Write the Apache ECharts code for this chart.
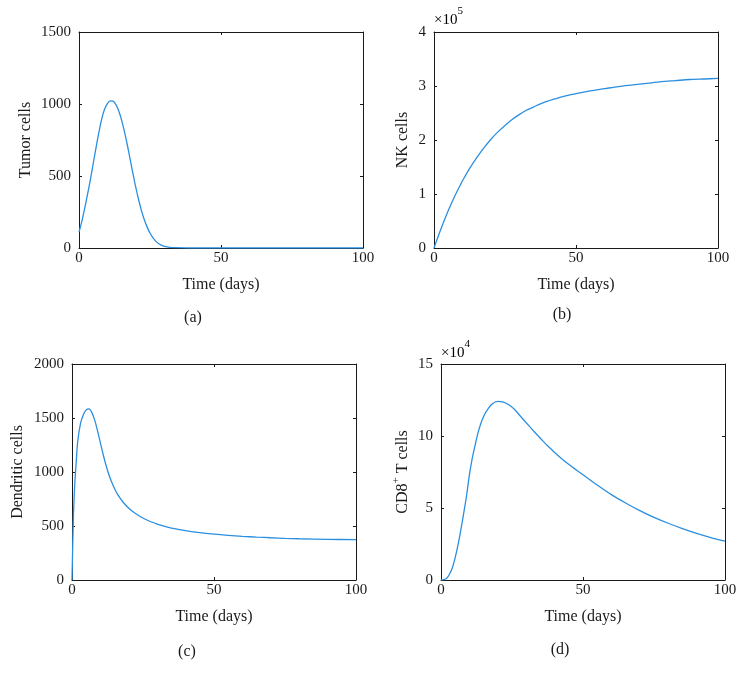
<!DOCTYPE html>
<html>
<head>
<meta charset="utf-8">
<script src="https://cdn.jsdelivr.net/npm/echarts@6/dist/echarts.min.js"></script>
<style>
  html, body { margin: 0; background: #fff; }
  #chart { width: 747px; height: 683px; }
</style>
</head>
<body>
<div id="chart"></div>
<script>
// values (time in days)
const tumorDays = [0, 1, 2, 3, 4, 5, 6, 7, 8, 9, 10, 11, 12, 13, 14, 15, 16, 17, 18, 19, 20, 21, 22, 23, 24, 25, 26, 27, 28, 29, 30, 32, 34, 37, 40, 50, 60, 70, 80, 90, 100];
const tumorCells = [110, 185, 275, 372, 475, 585, 697, 803, 897, 963, 1003, 1022, 1020, 996, 952, 888, 808, 717, 617, 517, 421, 335, 260, 196, 145, 104, 72, 48, 31, 20, 12, 5, 2, 0.5, 0, 0, 0, 0, 0, 0, 0];

// NK cells, in units of 10^5
const nkDays = [0, 2.5, 5, 7.5, 10, 12.5, 15, 17.5, 20, 22.5, 25, 27.5, 30, 32.5, 35, 37.5, 40, 42.5, 45, 47.5, 50, 55, 60, 65, 70, 75, 80, 85, 90, 95, 100];
const nkCells = [0, 0.36, 0.69, 0.98, 1.24, 1.47, 1.67, 1.85, 2.01, 2.15, 2.27, 2.38, 2.47, 2.55, 2.61, 2.67, 2.72, 2.76, 2.8, 2.83, 2.86, 2.91, 2.95, 2.99, 3.02, 3.05, 3.08, 3.1, 3.12, 3.13, 3.14];

const dcDays = [0, 0.5, 1, 1.5, 2, 3, 4, 5, 6, 7, 8, 9, 10, 11, 12, 13, 14, 15, 16, 18, 20, 22, 24, 26, 28, 30, 33, 36, 40, 45, 50, 55, 60, 65, 70, 75, 80, 90, 100];
const dendriticCells = [0, 590, 900, 1100, 1280, 1450, 1530, 1575, 1585, 1550, 1480, 1380, 1270, 1160, 1060, 975, 905, 845, 795, 720, 665, 622, 588, 560, 537, 518, 495, 476, 457, 438, 424, 413, 404, 397, 391, 386, 382, 377, 373];

// CD8+ T cells, in units of 10^4
const cd8Days = [0, 1, 2, 3, 4, 5, 6, 7, 8, 9, 10, 11, 12, 13, 14, 15, 16, 18, 20, 22, 24, 26, 28, 30, 32, 34, 36, 38, 40, 42, 44, 46, 48, 50, 55, 60, 65, 70, 75, 80, 85, 90, 95, 100];
const cd8Cells = [0, 0.02, 0.12, 0.4, 0.85, 1.55, 2.45, 3.5, 4.65, 5.85, 7.3, 8.45, 9.35, 10.2, 10.85, 11.35, 11.72, 12.22, 12.4, 12.35, 12.15, 11.82, 11.37, 10.92, 10.48, 10.05, 9.63, 9.23, 8.86, 8.51, 8.18, 7.88, 7.59, 7.31, 6.6, 5.93, 5.35, 4.82, 4.35, 3.94, 3.57, 3.24, 2.95, 2.7];

const xTicks = [0, 50, 100];

const FONT = 'Liberation Serif';
const INK = '#1a1a1a';
const LINE = '#2a8fe0';

const panels = [
  { left: 79, top: 32, yMax: 1500, yStep: 500, name: 'Tumor cells', nameGap: 45, days: tumorDays, vals: tumorCells },
  { left: 434, top: 32, yMax: 4, yStep: 1, name: 'NK cells', nameGap: 23, days: nkDays, vals: nkCells },
  { left: 72, top: 364, yMax: 2000, yStep: 500, name: 'Dendritic cells', nameGap: 46, days: dcDays, vals: dendriticCells },
  { left: 441, top: 364, yMax: 15, yStep: 5, name: '{b|CD8}{sup|+}{b| T cells}', nameGap: 30, days: cd8Days, vals: cd8Cells },
];

const textBase = { fontFamily: FONT, color: INK };
const tick = { show: true, inside: true, length: 3, lineStyle: { color: INK, width: 1 } };
const line = { show: true, onZero: false, lineStyle: { color: INK, width: 1 } };
const plain = v => String(v);

const grid = [], xAxis = [], yAxis = [], series = [];

panels.forEach((p, i) => {
  grid.push({ left: p.left, top: p.top, width: 284, height: 216, outerBoundsMode: 'none' });

  xAxis.push({
    type: 'value', gridIndex: i, position: 'bottom',
    min: xTicks[0], max: xTicks[xTicks.length - 1], interval: xTicks[1] - xTicks[0],
    axisLine: line, axisTick: tick, splitLine: { show: false },
    axisLabel: { ...textBase, fontSize: 15, margin: 3, formatter: plain },
    name: 'Time (days)', nameLocation: 'middle', nameGap: 29,
    nameTextStyle: { ...textBase, fontSize: 16 },
  });
  xAxis.push({
    type: 'value', gridIndex: i, position: 'top',
    min: xTicks[0], max: xTicks[xTicks.length - 1], interval: xTicks[1] - xTicks[0],
    axisLine: line, axisTick: tick, splitLine: { show: false }, axisLabel: { show: false },
  });

  yAxis.push({
    type: 'value', gridIndex: i, position: 'left',
    min: 0, max: p.yMax, interval: p.yStep,
    axisLine: line, axisTick: tick, splitLine: { show: false },
    axisLabel: { ...textBase, fontSize: 15, margin: 8, formatter: plain },
    name: p.name, nameLocation: 'middle', nameGap: p.nameGap,
    nameTextStyle: {
      ...textBase, fontSize: 16,
      rich: {
        b: { ...textBase, fontSize: 16, lineHeight: 20, verticalAlign: 'bottom' },
        sup: { ...textBase, fontSize: 11, lineHeight: 11, verticalAlign: 'top' },
      },
    },
  });
  yAxis.push({
    type: 'value', gridIndex: i, position: 'right',
    min: 0, max: p.yMax, interval: p.yStep,
    axisLine: line, axisTick: tick, splitLine: { show: false }, axisLabel: { show: false },
  });

  series.push({
    type: 'line', xAxisIndex: 2 * i, yAxisIndex: 2 * i,
    data: p.days.map((d, k) => [d, p.vals[k]]),
    showSymbol: false, symbol: 'none', smooth: 0.3,
    lineStyle: { color: LINE, width: 1.3 },
  });
});

// multipliers and sub-figure captions
const multRich = {
  a: { ...textBase, fontSize: 15, lineHeight: 22, verticalAlign: 'bottom' },
  s: { ...textBase, fontSize: 11, lineHeight: 11, verticalAlign: 'top' },
};
const graphic = [
  { type: 'text', x: 434, y: 6, style: { text: '{a|×10}{s|5}', rich: multRich } },
  { type: 'text', x: 441, y: 339, style: { text: '{a|×10}{s|4}', rich: multRich } },
  ...[['(a)', 193, 318], ['(b)', 562, 315], ['(c)', 187, 652], ['(d)', 560, 650]].map(([t, x, y]) => ({
    type: 'text', x, y,
    style: { text: t, font: '16px "' + FONT + '"', fill: INK, align: 'center', verticalAlign: 'middle' },
  })),
];

const chart = echarts.init(document.getElementById('chart'));
chart.setOption({ animation: false, grid, xAxis, yAxis, series, graphic });
</script>
</body>
</html>
